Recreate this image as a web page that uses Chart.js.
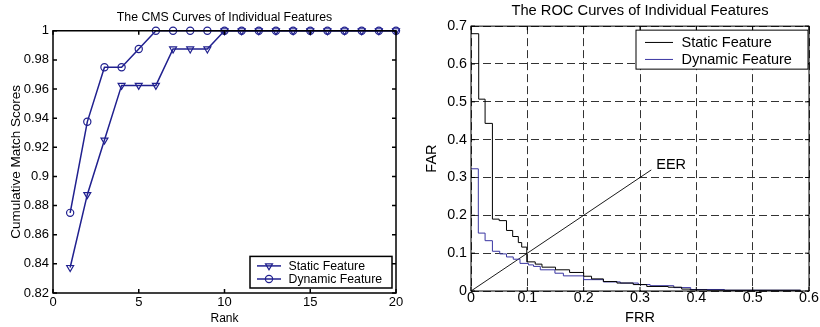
<!DOCTYPE html>
<html>
<head>
<meta charset="utf-8">
<script src="https://cdn.jsdelivr.net/npm/chart.js@4.4.0/dist/chart.umd.min.js"></script>
<style>
html, body { margin: 0; padding: 0; background: #fff; }
#wrap { position: relative; width: 820px; height: 327px; }
.box { position: absolute; top: 0; width: 410px; height: 327px; }
</style>
</head>
<body>
<div id="wrap">
  <div class="box" style="left:0"><canvas id="cms"></canvas></div>
  <div class="box" style="left:410px"><canvas id="roc"></canvas></div>
</div>
<script>
// CMS curves
const ranks = [1, 2, 3, 4, 5, 6, 7, 8, 9, 10, 11, 12, 13, 14, 15, 16, 17, 18, 19, 20];
const cmsStatic = [0.8375, 0.8875, 0.925, 0.9625, 0.9625, 0.9625, 0.9875, 0.9875, 0.9875, 1, 1, 1, 1, 1, 1, 1, 1, 1, 1, 1];
const cmsDynamic = [0.875, 0.9375, 0.975, 0.975, 0.9875, 1, 1, 1, 1, 1, 1, 1, 1, 1, 1, 1, 1, 1, 1, 1];
const cmsXTicks = [0, 5, 10, 15, 20];
const cmsYTicks = [0.82, 0.84, 0.86, 0.88, 0.9, 0.92, 0.94, 0.96, 0.98, 1];

// ROC curves (step change points)
const staticFrr = [0, 0.0137, 0.025, 0.038, 0.05, 0.063, 0.074, 0.084, 0.09, 0.099, 0.114, 0.126, 0.15, 0.175, 0.2, 0.214, 0.235, 0.259, 0.288, 0.312, 0.35, 0.374, 0.389, 0.419, 0.585];
const staticFar = [0.68, 0.507, 0.443, 0.19, 0.186, 0.16, 0.144, 0.128, 0.116, 0.077, 0.071, 0.063, 0.056, 0.049, 0.039, 0.032, 0.025, 0.021, 0.017, 0.012, 0.01, 0.005, 0.003, 0.002, 0.001];
const dynamicFrr = [0, 0.013, 0.025, 0.038, 0.051, 0.063, 0.075, 0.087, 0.102, 0.111, 0.123, 0.149, 0.164, 0.2, 0.235, 0.265, 0.297, 0.318, 0.36, 0.39, 0.45, 0.585];
const dynamicFar = [0.323, 0.153, 0.133, 0.105, 0.098, 0.09, 0.084, 0.073, 0.069, 0.065, 0.056, 0.047, 0.04, 0.03, 0.024, 0.021, 0.017, 0.014, 0.009, 0.004, 0.002, 0.001];
const eerLine = [0, 0.32];
const rocXTicks = [0, 0.1, 0.2, 0.3, 0.4, 0.5, 0.6];
const rocYTicks = [0, 0.1, 0.2, 0.3, 0.4, 0.5, 0.6, 0.7];

const FONT = "'Liberation Sans', Arial, sans-serif";
Chart.defaults.color = '#000';
Chart.defaults.font.family = FONT;

const toPts = (xs, ys) => xs.map((x, i) => ({ x: x, y: ys[i] }));
const fmt = v => String(+Number(v).toFixed(2));

function marker(ctx, style, cx, cy, r) {
  ctx.beginPath();
  if (style === 'circle') {
    ctx.arc(cx, cy, r, 0, Math.PI * 2);
  } else {
    // downward triangle
    ctx.moveTo(cx - r * 0.87, cy - r * 0.5);
    ctx.lineTo(cx + r * 0.87, cy - r * 0.5);
    ctx.lineTo(cx, cy + r);
    ctx.closePath();
  }
  ctx.stroke();
}

// matlab style box, inward ticks, legend and the EER label
const matlabAxes = {
  id: 'matlabAxes',
  afterDraw(chart, args, o) {
    const { ctx, chartArea: a, scales: { x, y } } = chart;
    ctx.save();
    ctx.strokeStyle = '#000';
    ctx.lineWidth = o.lw;
    ctx.setLineDash([]);
    ctx.strokeRect(a.left, a.top, a.right - a.left, a.bottom - a.top);
    const L = o.tick;
    ctx.beginPath();
    x.ticks.forEach(t => {
      const p = x.getPixelForValue(t.value);
      ctx.moveTo(p, a.bottom); ctx.lineTo(p, a.bottom - L);
      ctx.moveTo(p, a.top); ctx.lineTo(p, a.top + L);
    });
    y.ticks.forEach(t => {
      const p = y.getPixelForValue(t.value);
      ctx.moveTo(a.left, p); ctx.lineTo(a.left + L, p);
      ctx.moveTo(a.right, p); ctx.lineTo(a.right - L, p);
    });
    ctx.stroke();

    // EER label at the end of the EER line
    if (o.eer !== undefined) {
      const meta = chart.getDatasetMeta(o.eer);
      const end = meta.data[meta.data.length - 1];
      ctx.fillStyle = '#000';
      ctx.font = o.font;
      ctx.textAlign = 'left';
      ctx.textBaseline = 'middle';
      ctx.fillText('EER', end.x + 5, end.y - 5);
    }

    // legend
    const lg = o.legend;
    const bx = a.right - lg.inset[0] - lg.w;
    const by = lg.corner === 'br' ? a.bottom - lg.inset[1] - lg.h : a.top + lg.inset[1];
    ctx.fillStyle = '#fff';
    ctx.fillRect(bx, by, lg.w, lg.h);
    ctx.lineWidth = o.lw;
    ctx.strokeRect(bx, by, lg.w, lg.h);
    ctx.font = o.font;
    ctx.textBaseline = 'middle';
    lg.items.forEach((di, k) => {
      const ds = chart.data.datasets[di];
      const yy = by + lg.rows[k];
      ctx.strokeStyle = ds.borderColor;
      ctx.lineWidth = ds.borderWidth;
      ctx.beginPath();
      ctx.moveTo(bx + lg.s0, yy); ctx.lineTo(bx + lg.s1, yy);
      ctx.stroke();
      if (ds.pointRadius) {
        ctx.lineWidth = ds.pointBorderWidth;
        marker(ctx, ds.pointStyle, bx + (lg.s0 + lg.s1) / 2, yy, ds.pointRadius);
      }
      ctx.fillStyle = '#000';
      ctx.fillText(ds.label, bx + lg.tx, yy + 0.5);
    });
    ctx.restore();
  }
};

const navy = '#20208f';

new Chart(document.getElementById('cms'), {
  type: 'line',
  data: {
    datasets: [
      {
        label: 'Static Feature',
        data: toPts(ranks, cmsStatic),
        borderColor: navy, borderWidth: 1.5,
        pointStyle: 'triangle', pointRotation: 180, pointRadius: 4,
        pointBorderColor: navy, pointBackgroundColor: 'rgba(0,0,0,0)', pointBorderWidth: 1.2,
        clip: false
      },
      {
        label: 'Dynamic Feature',
        data: toPts(ranks, cmsDynamic),
        borderColor: navy, borderWidth: 1.5,
        pointStyle: 'circle', pointRadius: 3.6,
        pointBorderColor: navy, pointBackgroundColor: 'rgba(0,0,0,0)', pointBorderWidth: 1.2,
        clip: false
      }
    ]
  },
  options: {
    responsive: true,
    maintainAspectRatio: false,
    animation: false,
    events: [],
    layout: { padding: { left: 0, right: 14, top: 0, bottom: 0 } },
    scales: {
      x: {
        type: 'linear', min: 0, max: 20,
        afterBuildTicks: s => { s.ticks = cmsXTicks.map(v => ({ value: v })); },
        afterFit: s => { s.height = 34; },
        grid: { display: false, drawTicks: false },
        border: { display: false },
        ticks: { font: { size: 13 }, padding: 2, callback: fmt, maxRotation: 0 },
        title: { display: true, text: 'Rank', font: { size: 12 }, padding: { top: 0, bottom: 1.5 } }
      },
      y: {
        type: 'linear', min: 0.82, max: 1,
        afterBuildTicks: s => { s.ticks = cmsYTicks.map(v => ({ value: v })); },
        afterFit: s => { s.width = 53; },
        grid: { display: false, drawTicks: false },
        border: { display: false },
        ticks: { font: { size: 13 }, padding: 4, callback: fmt },
        title: { display: true, text: 'Cumulative Match Scores', font: { size: 13.5 }, padding: { top: 8, bottom: 0 } }
      }
    },
    plugins: {
      legend: { display: false },
      tooltip: { enabled: false },
      title: {
        display: true, fullSize: false,
        text: 'The CMS Curves of Individual Features',
        font: { size: 12.3, weight: 'normal' },
        padding: { top: 10.5, bottom: 5.5 }
      },
      matlabAxes: {
        lw: 1.5, tick: 4, font: '12.3px ' + FONT,
        legend: { corner: 'br', inset: [4, 5], w: 142, h: 31.6, rows: [9.5, 22.6], s0: 7, s1: 31, tx: 38.5, items: [0, 1] }
      }
    }
  },
  plugins: [matlabAxes]
});

const rocBlue = '#3a36a2';

new Chart(document.getElementById('roc'), {
  type: 'line',
  data: {
    datasets: [
      {
        label: 'Static Feature',
        data: toPts(staticFrr, staticFar),
        borderColor: '#000', borderWidth: 1, stepped: true, pointRadius: 0
      },
      {
        label: 'Dynamic Feature',
        data: toPts(dynamicFrr, dynamicFar),
        borderColor: rocBlue, borderWidth: 1, stepped: true, pointRadius: 0
      },
      {
        label: 'EER',
        data: toPts(eerLine, eerLine),
        borderColor: '#000', borderWidth: 0.9, pointRadius: 0
      }
    ]
  },
  options: {
    responsive: true,
    maintainAspectRatio: false,
    animation: false,
    events: [],
    layout: { padding: { left: 0, right: 11, top: 0, bottom: 0 } },
    scales: {
      x: {
        type: 'linear', min: 0, max: 0.6,
        afterBuildTicks: s => { s.ticks = rocXTicks.map(v => ({ value: v })); },
        afterFit: s => { s.height = 36; },
        grid: { color: '#333', lineWidth: 1, drawTicks: false },
        border: { display: false, dash: [8, 4] },
        ticks: { font: { size: 14.3 }, padding: -1.5, callback: fmt, maxRotation: 0 },
        title: { display: true, text: 'FRR', font: { size: 14.5 }, padding: { top: 0, bottom: 0 } }
      },
      y: {
        type: 'linear', min: 0, max: 0.7,
        afterBuildTicks: s => { s.ticks = rocYTicks.map(v => ({ value: v })); },
        afterFit: s => { s.width = 61; },
        grid: { color: '#333', lineWidth: 1, drawTicks: false },
        border: { display: false, dash: [8, 4] },
        ticks: { font: { size: 14.3 }, padding: 4, callback: fmt },
        title: { display: true, text: 'FAR', font: { size: 14.5 }, padding: { top: 13, bottom: 0 } }
      }
    },
    plugins: {
      legend: { display: false },
      tooltip: { enabled: false },
      title: {
        display: true, fullSize: false,
        text: 'The ROC Curves of Individual Features',
        font: { size: 14.7, weight: 'normal' },
        padding: { top: 2, bottom: 6.5 }
      },
      matlabAxes: {
        lw: 1, tick: 4, font: '14.5px ' + FONT, eer: 2,
        legend: { corner: 'tr', inset: [1, 4], w: 172, h: 39, rows: [12.3, 29.3], s0: 9, s1: 37, tx: 45.5, items: [0, 1] }
      }
    }
  },
  plugins: [matlabAxes]
});
</script>
</body>
</html>
